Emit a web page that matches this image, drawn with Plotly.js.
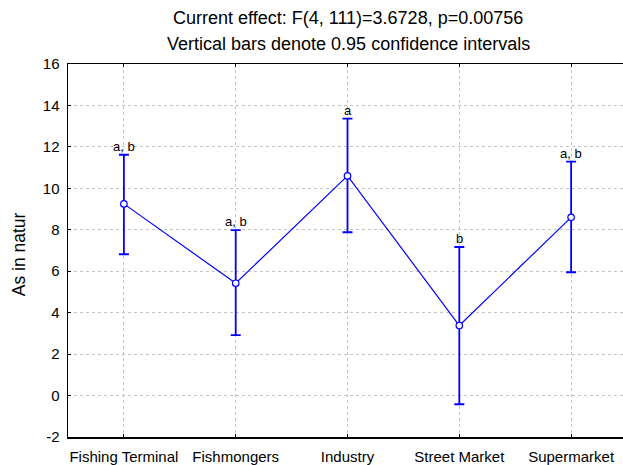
<!DOCTYPE html>
<html><head><meta charset="utf-8">
<script src="https://cdn.plot.ly/plotly-3.0.1.min.js"></script>
<style>html,body{margin:0;padding:0;background:#fff}#c{width:623px;height:465px}</style>
</head><body><div id="c"></div>
<script>
const categories = ["Fishing Terminal", "Fishmongers", "Industry", "Street Market", "Supermarket"];
const means = [9.25, 5.42, 10.60, 3.38, 8.60];
const upper = [11.62, 7.98, 13.36, 7.17, 11.29];
const lower = [6.82, 2.92, 7.88, -0.42, 5.95];
const letters = ["a, b", "a, b", "a", "b", "a, b"];
const yTicks = [-2, 0, 2, 4, 6, 8, 10, 12, 14, 16];
const titleLines = ["Current effect: F(4, 111)=3.6728, p=0.00756", "Vertical bars denote 0.95 confidence intervals"];

const idx = categories.map((_, i) => i);
const trace = {
  x: idx, y: means, type: 'scatter', mode: 'lines+markers',
  line: {color: '#0000ff', width: 1.2},
  marker: {symbol: 'circle', size: 6.5, color: '#ffffff', line: {color: '#0000ff', width: 1.2}},
  error_y: {type: 'data', symmetric: false,
    array: upper.map((u, i) => u - means[i]),
    arrayminus: means.map((m, i) => m - lower[i]),
    color: '#0000ff', thickness: 1.8, width: 5},
  hoverinfo: 'skip'
};
const font = {family: 'Liberation Sans, Arial, Helvetica, sans-serif', color: '#000'};
const annotations = letters.map((t, i) => ({
  x: i, y: upper[i], xref: 'x', yref: 'y', text: t, showarrow: false,
  yanchor: 'bottom', yshift: -1, font: Object.assign({size: 13}, font)
}));
annotations.push({
  xref: 'paper', yref: 'paper', x: 0, y: 0.49, xshift: -49, text: 'As in natur',
  textangle: -90, showarrow: false, xanchor: 'center', yanchor: 'middle',
  font: Object.assign({size: 17.5}, font)
});
titleLines.forEach((t, k) => annotations.push({
  xref: 'paper', yref: 'paper', x: 0.505, y: 1, yshift: 46 - k * 26, text: t,
  showarrow: false, xanchor: 'center', yanchor: 'middle',
  font: Object.assign({size: 18}, font)
}));
const layout = {
  width: 623, height: 465,
  margin: {l: 68, r: 0, t: 64, b: 28},
  paper_bgcolor: '#fff', plot_bgcolor: '#fff',
  showlegend: false,
  font: Object.assign({size: 15}, font),
  xaxis: {range: [-0.5, 4.464], tickvals: idx, ticktext: categories,
    showline: true, linecolor: '#000', linewidth: 1.5, mirror: 'ticks',
    ticks: 'inside', ticklen: 3, tickcolor: '#000',
    showgrid: true, gridcolor: '#c4c4c4', griddash: 'dot', gridwidth: 1,
    zeroline: false, tickfont: Object.assign({size: 15}, font), ticklabelstandoff: 5, fixedrange: true},
  yaxis: {range: [-2, 16], tickvals: yTicks, ticktext: yTicks.map(String),
    showline: true, linecolor: '#000', linewidth: 1.5, mirror: false,
    ticks: 'inside', ticklen: 3, tickcolor: '#000',
    showgrid: true, gridcolor: '#c4c4c4', griddash: 'dot', gridwidth: 1,
    zeroline: false, tickfont: Object.assign({size: 15}, font), ticklabelstandoff: 4, fixedrange: true},
  annotations: annotations
};
Plotly.newPlot('c', [trace], layout, {displayModeBar: false, staticPlot: true});
</script></body></html>
